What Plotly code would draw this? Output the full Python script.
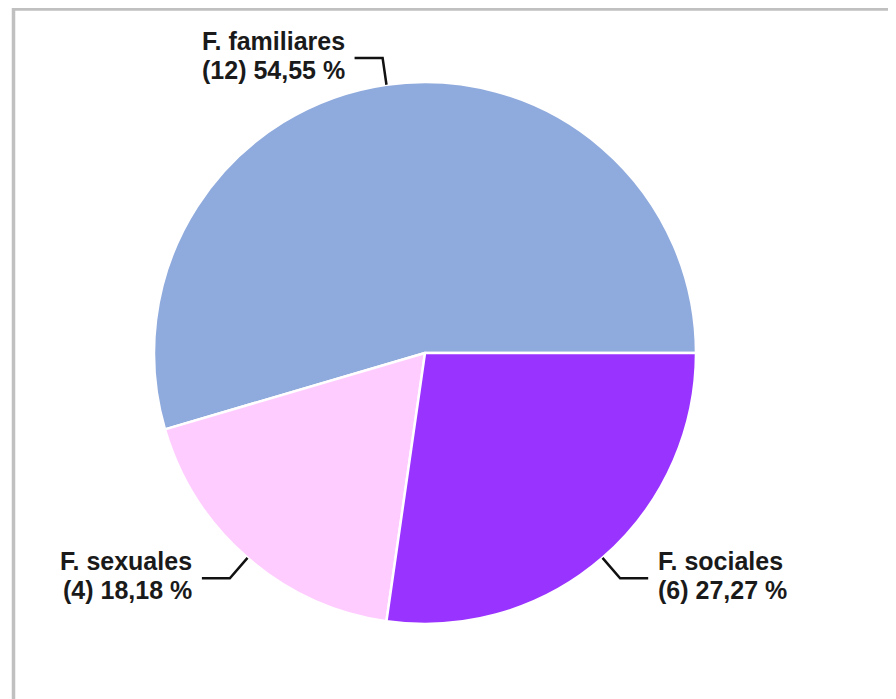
import math
import plotly.graph_objects as go

# ---- data ----
labels = ["F. familiares", "F. sexuales", "F. sociales"]
counts = [12, 4, 6]
percent_text = ["54,55 %", "18,18 %", "27,27 %"]
colors = ["#8FAADC", "#FFCCFF", "#9933FF"]

W, H = 896, 699
OFF = 8  # page body margin offset
cx, cy, R = 425 - OFF, 353 - OFF, 271  # pie centre / radius in figure pixels

dom_x = [(cx - R) / W, (cx + R) / W]
dom_y = [1 - (cy + R) / H, 1 - (cy - R) / H]

total = sum(counts)
# first slice starts at 3 o'clock and runs counterclockwise
rotation = 90 - 360.0 * counts[0] / total

fig = go.Figure(go.Pie(
    labels=labels,
    values=counts,
    marker=dict(colors=colors, line=dict(color="white", width=2.5)),
    sort=False,
    direction="counterclockwise",
    rotation=rotation,
    textinfo="none",
    hoverinfo="label+value+percent",
    domain=dict(x=dom_x, y=dom_y),
    showlegend=False,
))

def px(x, y):
    return x / W, 1 - y / H

shapes = []
annotations = []
start = 0.0  # math angle in degrees, counterclockwise from 3 o'clock
font = dict(family="Liberation Sans, Arial, sans-serif", size=25, color="#1a1a1a")
for lab, c, pt in zip(labels, counts, percent_text):
    span = 360.0 * c / total
    mid = math.radians(start + span / 2)
    start += span
    dx, dy = math.cos(mid), -math.sin(mid)
    p0 = (cx + R * dx, cy + R * dy)
    p1 = (cx + (R + 27) * dx, cy + (R + 27) * dy)
    side = 1 if dx > 0 else -1
    p2 = (p1[0] + side * 28, p1[1])
    path = "M {:.4f},{:.4f} L {:.4f},{:.4f} L {:.4f},{:.4f}".format(
        *px(*p0), *px(*p1), *px(*p2))
    shapes.append(dict(type="path", xref="paper", yref="paper", path=path,
                       line=dict(color="#111111", width=2.5)))
    for txt, off_y in (("<b>{}</b>".format(lab), -17),
                       ("<b>({}) {}</b>".format(c, pt), 12)):
        tx, ty = px(p2[0] + side * 8, p2[1] + off_y)
        annotations.append(dict(
            x=tx, y=ty, xref="paper", yref="paper",
            text=txt, showarrow=False,
            xanchor="left" if side > 0 else "right",
            yanchor="middle",
            font=font,
        ))

# outer grey frame
shapes.append(dict(type="rect", xref="paper", yref="paper",
                   x0=(13.5 - OFF) / W, x1=1.2, y0=-0.2, y1=1 - (9 - OFF) / H,
                   line=dict(color="#C0C0C0", width=3.5), layer="below"))

fig.update_layout(
    width=W, height=H,
    margin=dict(l=0, r=0, t=0, b=0),
    paper_bgcolor="white",
    plot_bgcolor="white",
    shapes=shapes,
    annotations=annotations,
)

fig.write_html("out.html")
